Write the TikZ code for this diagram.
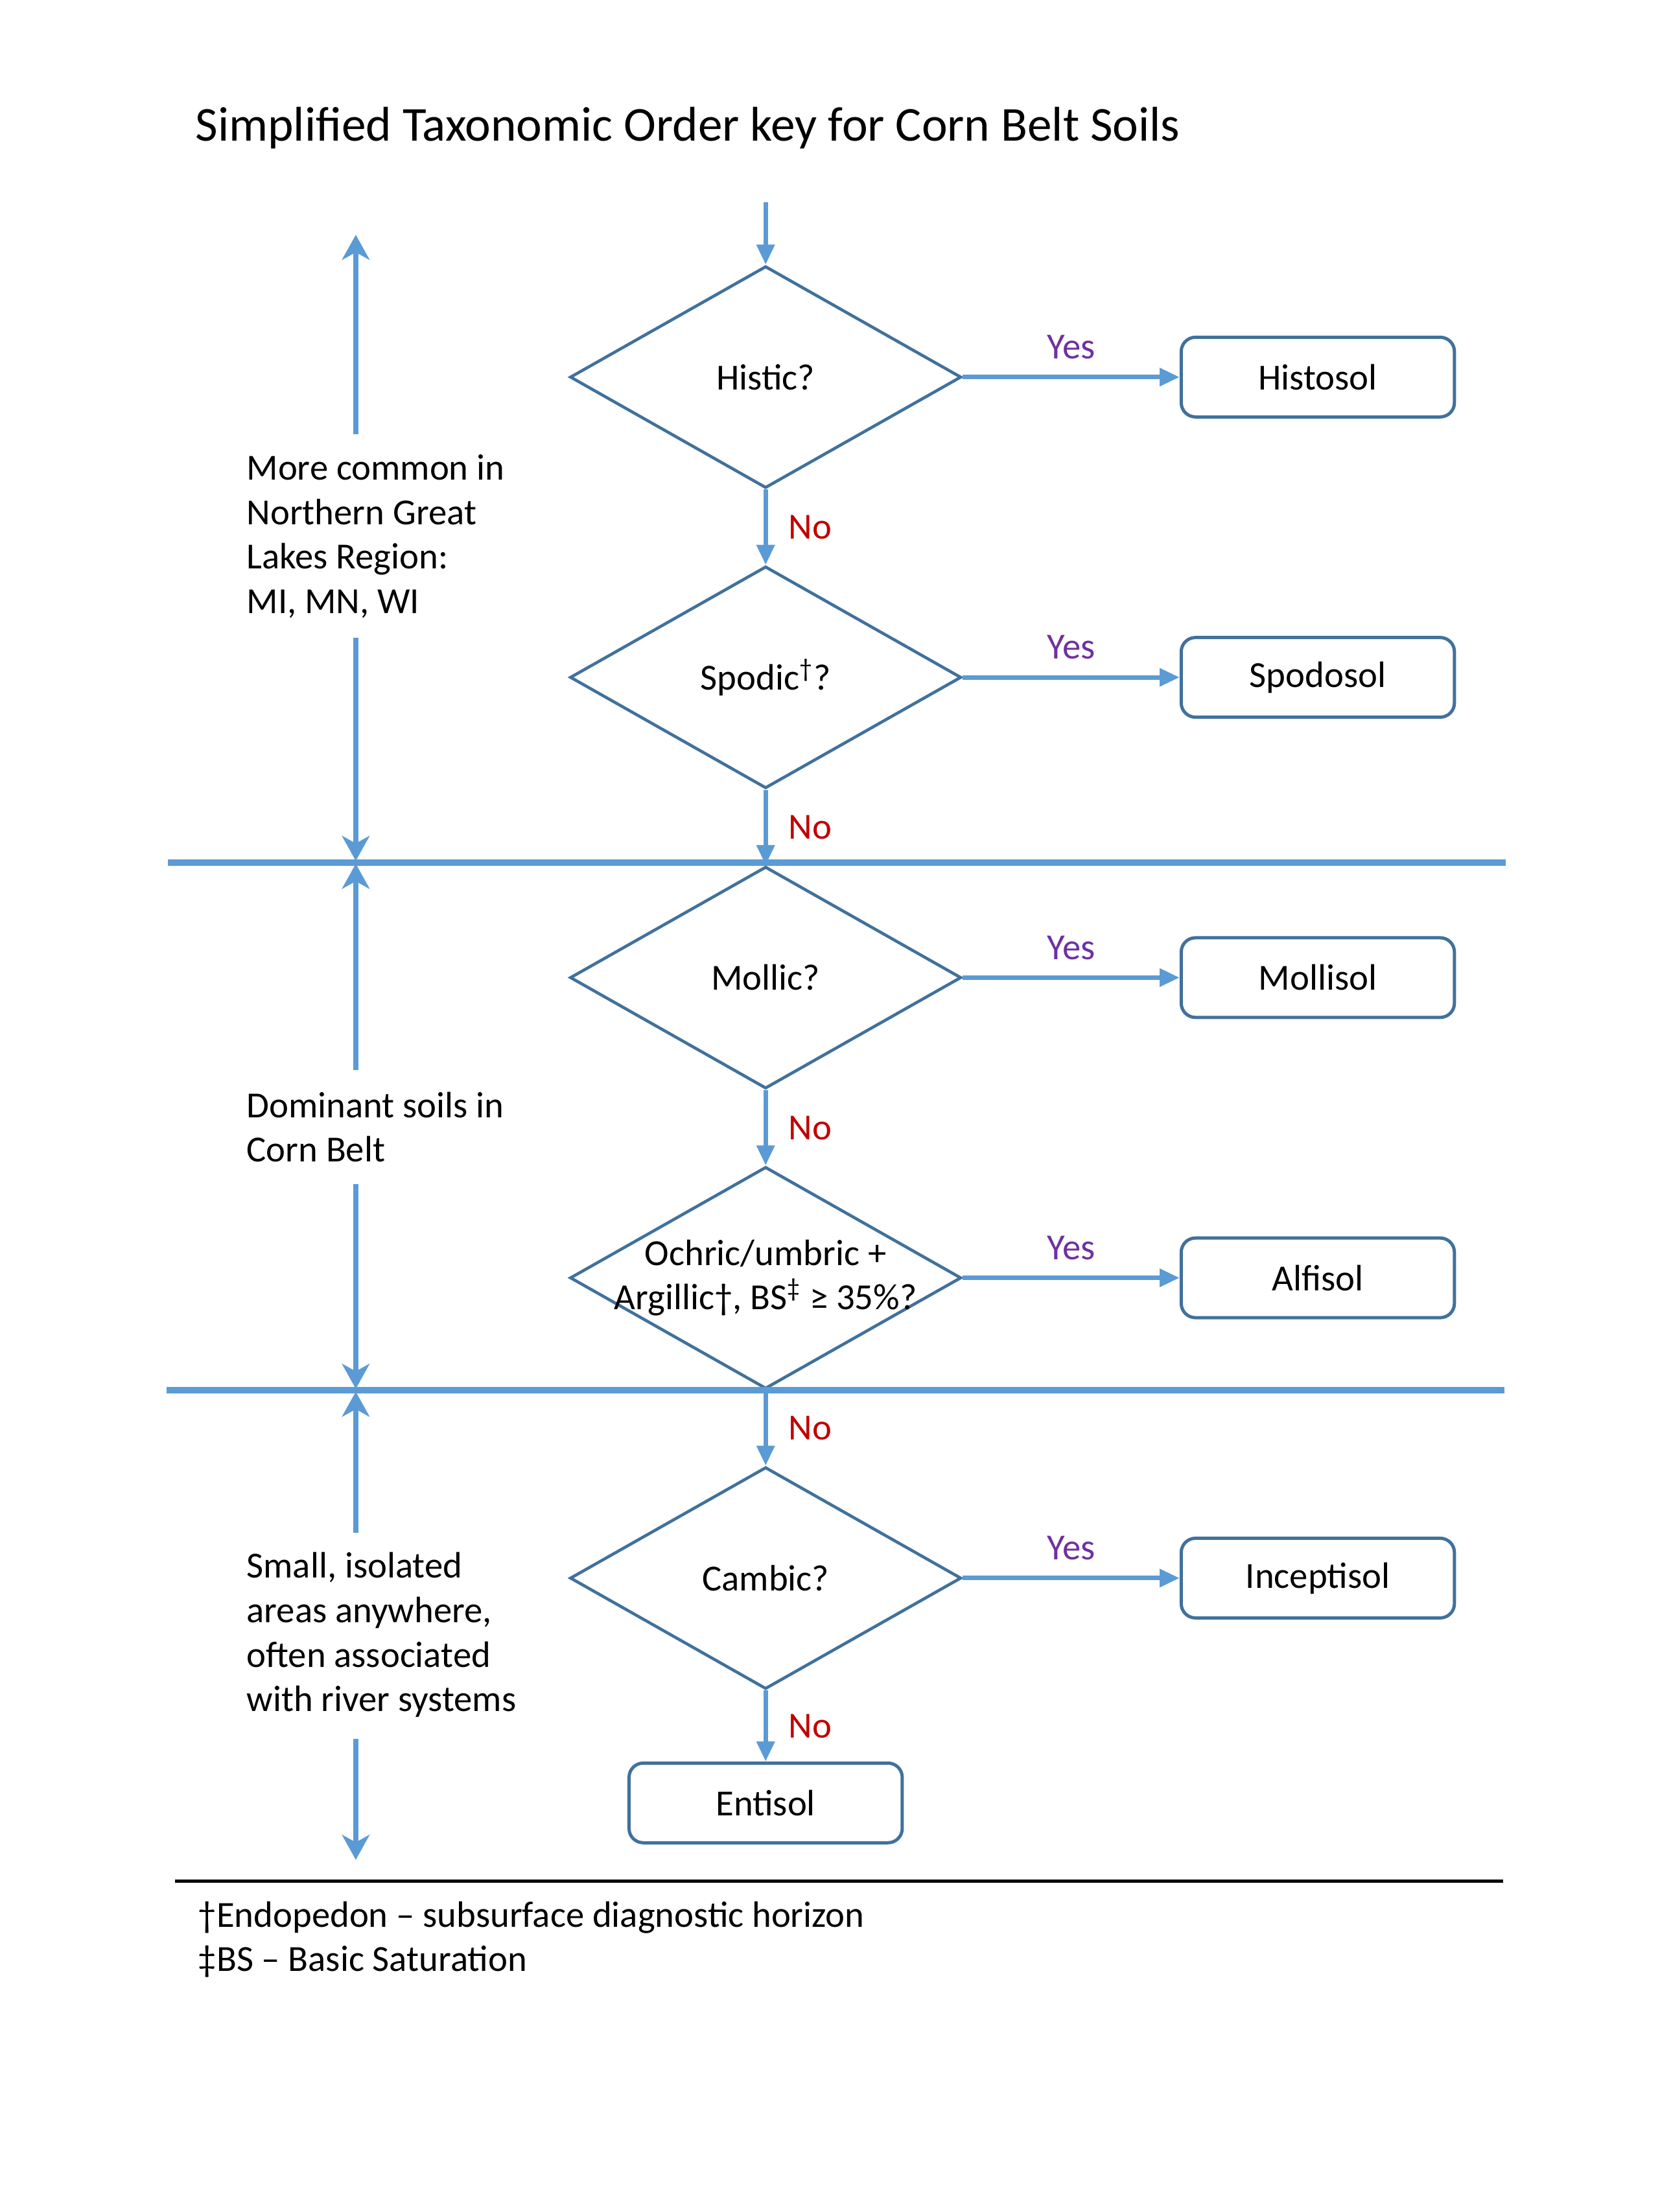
\documentclass[tikz,border=0pt]{standalone}
\usepackage{fontspec}
\setmainfont{Carlito}
\usetikzlibrary{shapes.geometric,arrows.meta}
\definecolor{flowblue}{HTML}{5B9BD5}
\definecolor{edgeblue}{HTML}{41719C}
\definecolor{yescol}{HTML}{7030A0}
\definecolor{nocol}{HTML}{C00000}
\tikzset{
  decision/.style={diamond, draw=edgeblue, line width=1.2pt, aspect=1.76,
    minimum width=5.5cm, minimum height=3.12cm, inner sep=0pt},
  order/.style={rectangle, rounded corners=0.2cm, draw=edgeblue, line width=1.3pt,
    minimum width=3.84cm, minimum height=1.12cm},
  flow/.style={draw=flowblue, line width=1.8pt, -{Triangle[length=8pt,width=7pt]}},
  yes/.style={text=yescol, above, yshift=3pt},
  no/.style={text=nocol, right, xshift=5pt},
  regionarrow/.style={draw=flowblue, line width=2pt, -{Stealth[length=10pt,width=11pt,inset=3pt]}},
  divider/.style={draw=flowblue, line width=2.6pt},
  note/.style={align=left, anchor=west, inner sep=0pt},
}
\begin{document}
\begin{tikzpicture}[x=0.02cm, y=-0.02cm, font=\fontsize{14.7}{17.8}\selectfont]
  \useasboundingbox (0,0) rectangle (1166,1554.5);
  \node[note, font=\fontsize{19.5}{23}\selectfont] (title) at (137,90) {Simplified Taxonomic Order key for Corn Belt Soils};

  \coordinate (start) at (538,142);
  \node[decision, label=center:{Histic?}] (histic) at (538,265) {};
  \node[decision, label=center:{Spodic\textsuperscript{†}?}] (spodic) at (538,476) {};
  \node[decision, label=center:{Mollic?}] (mollic) at (538,687) {};
  \node[decision, label={[align=center]center:{Ochric/umbric +\\Argillic†, BS\textsuperscript{‡} ≥ 35\%?}}] (ochric) at (538,898) {};
  \node[decision, label=center:{Cambic?}] (cambic) at (538,1109) {};
  \node[order] (histosol) at (926,265) {Histosol};
  \node[order] (spodosol) at (926,476) {Spodosol};
  \node[order] (mollisol) at (926,687) {Mollisol};
  \node[order] (alfisol) at (926,898) {Alfisol};
  \node[order] (inceptisol) at (926,1109) {Inceptisol};
  \node[order] (entisol) at (538,1267) {Entisol};

  \coordinate (d1w) at (118,606);
  \coordinate (d1e) at (1058,606);
  \coordinate (d2w) at (117,977);
  \coordinate (d2e) at (1057,977);
  \draw[divider] (d1w) -- (d1e);
  \draw[divider] (d2w) -- (d2e);

  \draw[flow] (start) -- (histic.north);
  \draw[flow] (histic.south) -- node[no] {No} (spodic.north);
  \draw[flow] (spodic.south) -- node[no] {No} (mollic.north);
  \draw[flow] (mollic.south) -- node[no] {No} (ochric.north);
  \draw[flow] (ochric.south) -- node[no] {No} (cambic.north);
  \draw[flow] (cambic.south) -- node[no] {No} (entisol.north);
  \draw[flow] (histic.east) -- node[yes] {Yes} (histosol.west);
  \draw[flow] (spodic.east) -- node[yes] {Yes} (spodosol.west);
  \draw[flow] (mollic.east) -- node[yes] {Yes} (mollisol.west);
  \draw[flow] (ochric.east) -- node[yes] {Yes} (alfisol.west);
  \draw[flow] (cambic.east) -- node[yes] {Yes} (inceptisol.west);

  \node[note] (north) at (173,377) {More common in\\Northern Great\\Lakes Region:\\MI, MN, WI};
  \node[note] (belt) at (173,792) {Dominant soils in\\Corn Belt};
  \node[note] (river) at (173,1149) {Small, isolated\\areas anywhere,\\often associated\\with river systems};
  \coordinate (n1) at (250,305);
  \coordinate (n1t) at (250,165);
  \coordinate (n2) at (250,448);
  \coordinate (n2t) at (250,605);
  \coordinate (b1) at (250,752);
  \coordinate (b1t) at (250,607);
  \coordinate (b2) at (250,832);
  \coordinate (b2t) at (250,976);
  \coordinate (r1) at (250,1077);
  \coordinate (r1t) at (250,978);
  \coordinate (r2) at (250,1222);
  \coordinate (r2t) at (250,1307);
  \draw[regionarrow] (n1) -- (n1t);
  \draw[regionarrow] (n2) -- (n2t);
  \draw[regionarrow] (b1) -- (b1t);
  \draw[regionarrow] (b2) -- (b2t);
  \draw[regionarrow] (r1) -- (r1t);
  \draw[regionarrow] (r2) -- (r2t);

  \coordinate (rulew) at (123,1322);
  \coordinate (rulee) at (1056,1322);
  \draw[line width=1.4pt] (rulew) -- (rulee);
  \node[note] (notes) at (139,1363) {†Endopedon – subsurface diagnostic horizon\\‡BS – Basic Saturation};
\end{tikzpicture}
\end{document}
